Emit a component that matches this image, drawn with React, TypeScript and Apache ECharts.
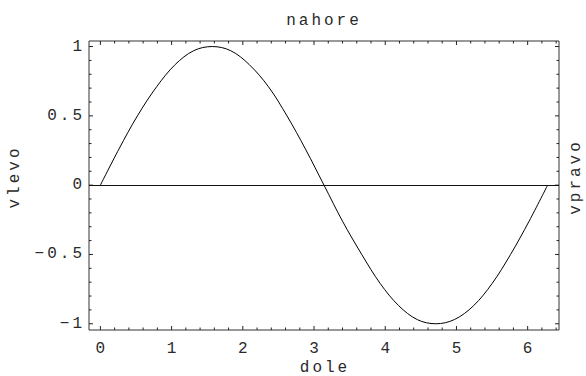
import React, { useEffect, useRef } from "react";
import * as echarts from "echarts";

// Samples of the plotted curve (x in radians)
const curveX = [
  0, 0.26, 0.52, 0.79, 1.05, 1.31, 1.57, 1.83, 2.09, 2.36, 2.62, 2.88, 3.14,
  3.4, 3.67, 3.93, 4.19, 4.45, 4.71, 4.97, 5.24, 5.5, 5.76, 6.02, 6.28,
];
const curveY = [
  0, 0.26, 0.5, 0.71, 0.87, 0.97, 1, 0.97, 0.87, 0.71, 0.5, 0.26, 0,
  -0.26, -0.5, -0.71, -0.87, -0.97, -1, -0.97, -0.87, -0.71, -0.5, -0.26, 0,
];

// Frame labels
const titleTop = "nahore";
const titleBottom = "dole";
const titleLeft = "vlevo";
const titleRight = "vpravo";

// Axis ranges and tick steps
const X_MIN = -0.16;
const X_MAX = 6.44;
const Y_MIN = -1.045;
const Y_MAX = 1.04;
const xMajorTicks = [0, 1, 2, 3, 4, 5, 6];
const yMajorTicks = [-1, -0.5, 0, 0.5, 1];
const X_MINOR_STEP = 0.2;
const Y_MINOR_STEP = 0.1;

const FONT = "Liberation Mono";
const FONT_SIZE = 16;
const TEXT_COLOR = "#2a2a2a";

function buildTicks() {
  const out: number[][] = [];
  const isMajor = (list: number[], v: number) =>
    list.some((m) => Math.abs(m - v) < 1e-6);
  for (let i = Math.ceil(X_MIN / X_MINOR_STEP); i * X_MINOR_STEP <= X_MAX; i++) {
    const v = +(i * X_MINOR_STEP).toFixed(4);
    out.push([0, v, isMajor(xMajorTicks, v) ? 1 : 0]);
  }
  for (let i = Math.ceil(Y_MIN / Y_MINOR_STEP); i * Y_MINOR_STEP <= Y_MAX; i++) {
    const v = +(i * Y_MINOR_STEP).toFixed(4);
    out.push([1, v, isMajor(yMajorTicks, v) ? 1 : 0]);
  }
  return out;
}

const fmt = (v: number) => String(v).replace("-", "\u2212");

const frameText = (text: string, x: number, y: number, rotation = 0) => ({
  type: "text",
  x,
  y,
  rotation,
  style: {
    text,
    fontFamily: FONT,
    fontSize: FONT_SIZE,
    fill: TEXT_COLOR,
    align: "center",
    verticalAlign: "middle",
  },
});

export default function App() {
  const ref = useRef<HTMLDivElement>(null);

  useEffect(() => {
    if (!ref.current) return;
    const chart = echarts.init(ref.current, undefined, { renderer: "svg" });
    const tickColor = "#222";

    chart.setOption({
      animation: false,
      backgroundColor: "#ffffff",
      textStyle: { fontFamily: FONT },
      grid: {
        left: 89,
        top: 41,
        width: 470,
        height: 289,
        show: true,
        borderColor: "#333",
        borderWidth: 1,
        backgroundColor: "transparent",
      },
      xAxis: {
        type: "value",
        min: X_MIN,
        max: X_MAX,
        splitNumber: 5,
        axisLine: { show: false },
        axisTick: { show: false },
        splitLine: { show: false },
        axisLabel: {
          showMinLabel: false,
          showMaxLabel: false,
          margin: 11,
          padding: [0, 0, 0, 3],
          color: TEXT_COLOR,
          fontFamily: FONT,
          fontSize: FONT_SIZE,
          formatter: (v: number) =>
            xMajorTicks.some((m) => Math.abs(m - v) < 1e-6) ? fmt(v) : "",
        },
      },
      yAxis: {
        type: "value",
        min: Y_MIN,
        max: Y_MAX,
        splitNumber: 5,
        axisLine: { show: false },
        axisTick: { show: false },
        splitLine: { show: false },
        axisLabel: {
          showMinLabel: false,
          showMaxLabel: false,
          margin: 4,
          color: TEXT_COLOR,
          fontFamily: FONT,
          fontSize: FONT_SIZE,
          formatter: (v: number) =>
            yMajorTicks.some((m) => Math.abs(m - v) < 1e-6) ? fmt(v) : "",
        },
      },
      graphic: [
        frameText(titleTop, 324, 21),
        frameText(titleBottom, 325, 368),
        frameText(titleLeft, 15, 177, Math.PI / 2),
        frameText(titleRight, 576, 177, Math.PI / 2),
      ],
      series: [
        {
          type: "line",
          data: curveX.map((x, i) => [x, curveY[i]]),
          showSymbol: false,
          symbol: "none",
          smooth: 0.35,
          lineStyle: { color: "#000", width: 1 },
          markLine: {
            silent: true,
            symbol: "none",
            label: { show: false },
            lineStyle: { color: "#111", width: 1, type: "solid" },
            data: [{ yAxis: 0 }],
          },
        },
        {
          type: "custom",
          silent: true,
          data: buildTicks(),
          renderItem: (_params: any, api: any) => {
            const dim = api.value(0);
            const pos = api.value(1);
            const len = api.value(2) ? 4 : 2.5;
            const style = { stroke: tickColor, lineWidth: 1 };
            if (dim === 0) {
              const b = api.coord([pos, Y_MIN]);
              const t = api.coord([pos, Y_MAX]);
              return {
                type: "group",
                children: [
                  { type: "line", shape: { x1: b[0], y1: b[1], x2: b[0], y2: b[1] - len }, style },
                  { type: "line", shape: { x1: t[0], y1: t[1], x2: t[0], y2: t[1] + len }, style },
                ],
              };
            }
            const l = api.coord([X_MIN, pos]);
            const r = api.coord([X_MAX, pos]);
            return {
              type: "group",
              children: [
                { type: "line", shape: { x1: l[0], y1: l[1], x2: l[0] + len, y2: l[1] }, style },
                { type: "line", shape: { x1: r[0], y1: r[1], x2: r[0] - len, y2: r[1] }, style },
              ],
            };
          },
        },
      ],
    });

    return () => chart.dispose();
  }, []);

  return (
    <div
      ref={ref}
      style={{
        position: "fixed",
        left: 0,
        top: 0,
        width: 586,
        height: 376,
        letterSpacing: "3px",
        background: "#fff",
      }}
    />
  );
}
